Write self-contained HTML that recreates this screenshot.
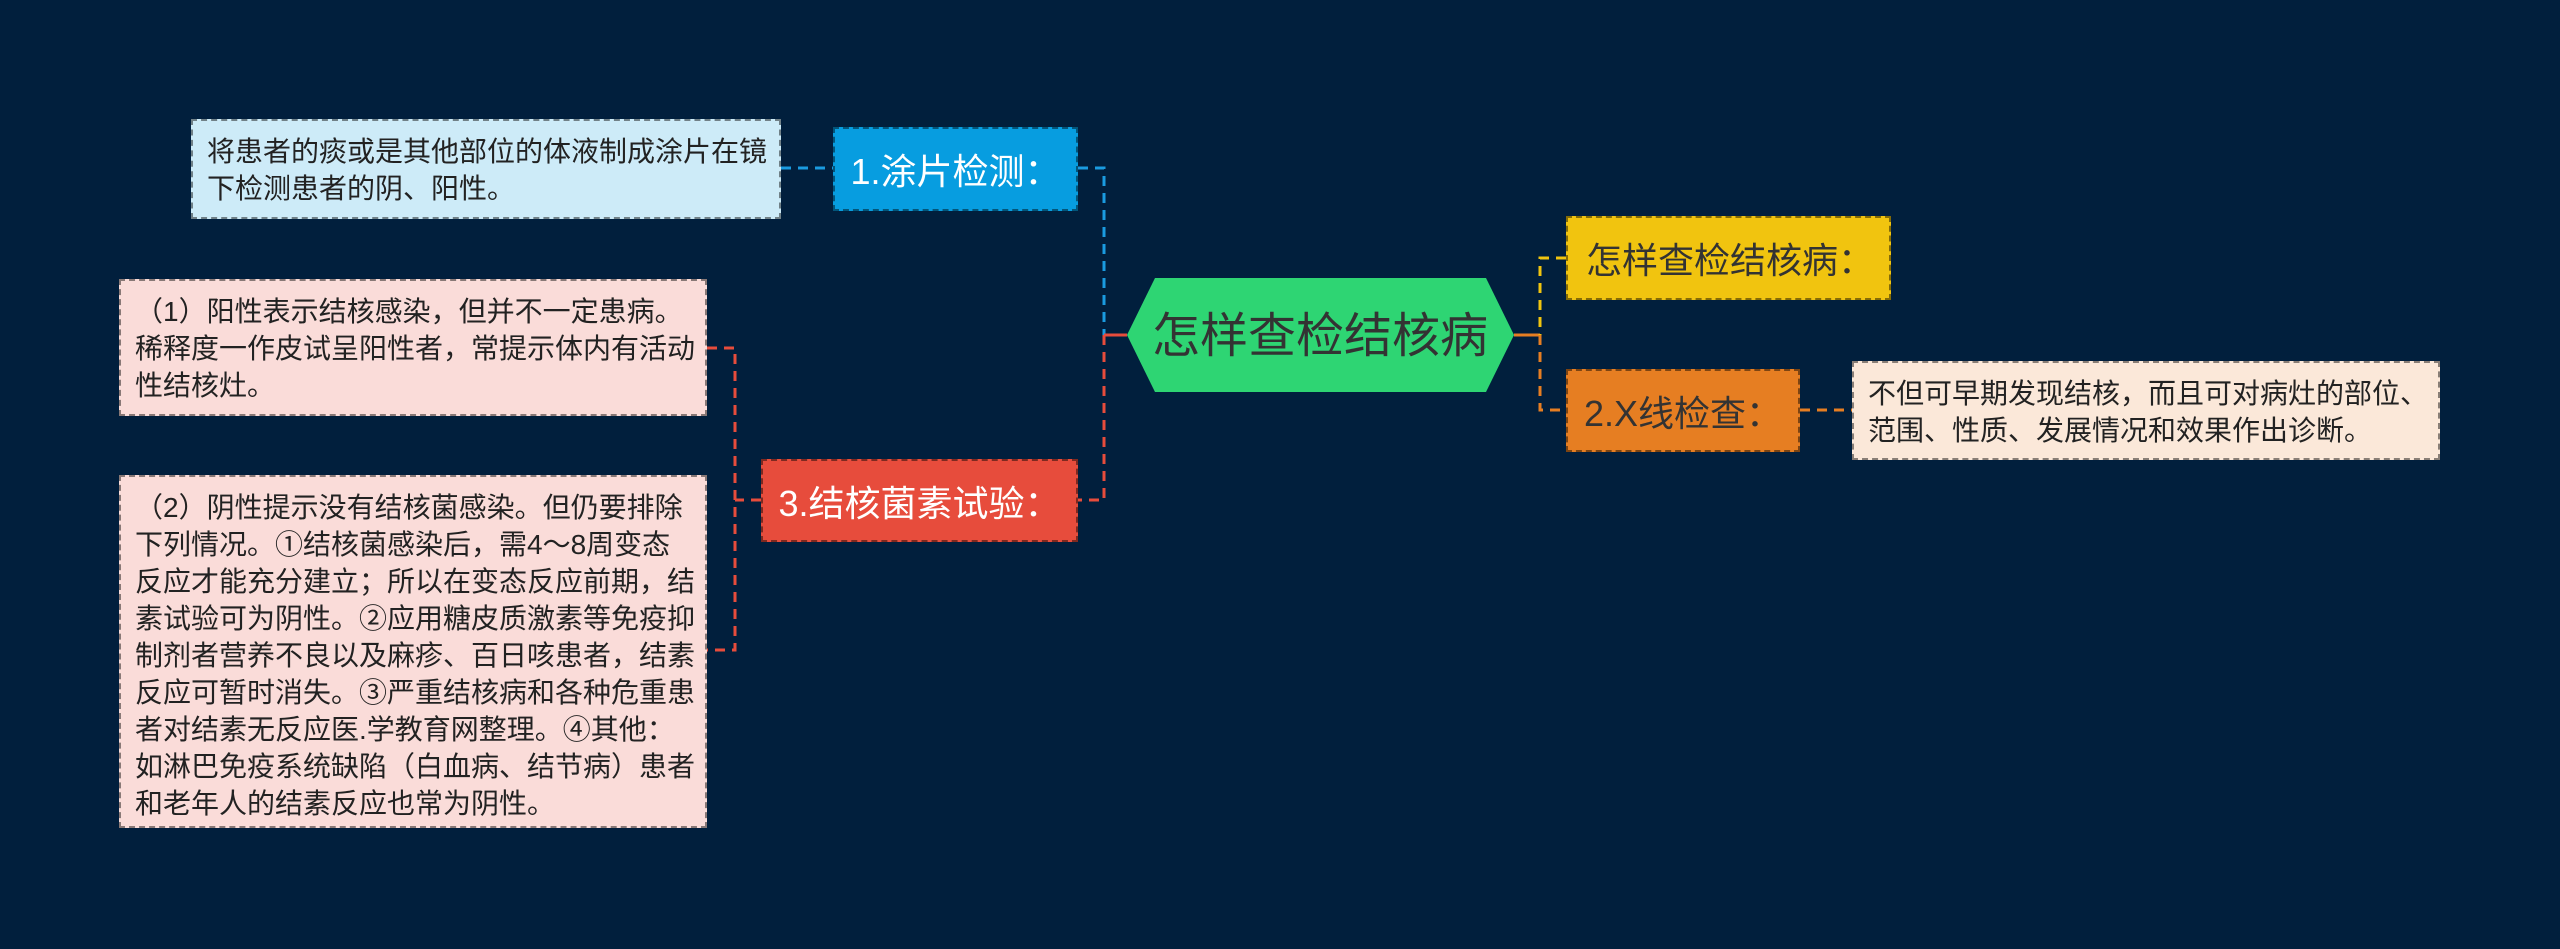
<!DOCTYPE html>
<html><head><meta charset="utf-8"><style>
body{margin:0;width:2560px;height:949px;background:#011f3d;position:relative;overflow:hidden;font-family:"Liberation Sans","Noto Sans CJK SC",sans-serif}
.b{position:absolute;box-sizing:border-box;border:2px dashed rgba(0,0,0,0.45)}
.d{font-size:28px;line-height:37px;padding:12px 14px;color:#222;white-space:nowrap}
.n{font-size:36px;display:flex;align-items:center;justify-content:center;color:#fff;white-space:nowrap}
svg{position:absolute;left:0;top:0}
</style></head><body>
<svg width="2560" height="949">
<g fill="none" stroke-width="3" stroke-dasharray="10,7">
<path d="M781 168 H833" stroke="#1a9be0"/>
<path d="M1078 168 H1104 V335" stroke="#1a9be0"/>
<path d="M1104 335 V500 H1078" stroke="#e74c3c"/>
<path d="M1104 335 H1127" stroke="#e74c3c" stroke-dasharray="none"/>
<path d="M761 500 H735 M707 348 H735 V650 H707" stroke="#e74c3c"/>
<path d="M1514 335 H1540" stroke="#e67e22" stroke-dasharray="none"/>
<path d="M1566 258 H1540 V335" stroke="#f1c40f"/>
<path d="M1540 335 V410 H1566" stroke="#e67e22"/>
<path d="M1800 410 H1852" stroke="#e67e22"/>
</g>
<polygon points="1155,278 1486,278 1514,335 1486,392 1155,392 1127,335" fill="#2ed573"/>
<text x="1320" y="352" font-size="48" text-anchor="middle" fill="#333" font-family="Liberation Sans, Noto Sans CJK SC, sans-serif">怎样查检结核病</text>
</svg>
<div class="b d" style="left:191px;top:119px;width:590px;height:100px;background:#cdebf8">将患者的痰或是其他部位的体液制成涂片在镜<br>下检测患者的阴、阳性。</div>
<div class="b n" style="left:833px;top:127px;width:245px;height:84px;background:#079de0">1.涂片检测：</div>
<div class="b n" style="left:1566px;top:216px;width:325px;height:84px;background:#f1c40f;color:#333;justify-content:flex-start;padding-left:18px">怎样查检结核病：</div>
<div class="b n" style="left:1566px;top:369px;width:234px;height:83px;background:#e67e22;color:#333">2.X线检查：</div>
<div class="b d" style="left:1852px;top:361px;width:588px;height:99px;background:#fbe8d9">不但可早期发现结核，而且可对病灶的部位、<br>范围、性质、发展情况和效果作出诊断。</div>
<div class="b n" style="left:761px;top:459px;width:317px;height:83px;background:#e74c3c">3.结核菌素试验：</div>
<div class="b d" style="left:119px;top:279px;width:588px;height:137px;background:#fadcd9;padding-top:12px">（1）阳性表示结核感染，但并不一定患病。<br>稀释度一作皮试呈阳性者，常提示体内有活动<br>性结核灶。</div>
<div class="b d" style="left:119px;top:475px;width:588px;height:353px;background:#fadcd9;padding-top:12px">（2）阴性提示没有结核菌感染。但仍要排除<br>下列情况。①结核菌感染后，需4～8周变态<br>反应才能充分建立；所以在变态反应前期，结<br>素试验可为阴性。②应用糖皮质激素等免疫抑<br>制剂者营养不良以及麻疹、百日咳患者，结素<br>反应可暂时消失。③严重结核病和各种危重患<br>者对结素无反应医.学教育网整理。④其他：<br>如淋巴免疫系统缺陷（白血病、结节病）患者<br>和老年人的结素反应也常为阴性。</div>
</body></html>
